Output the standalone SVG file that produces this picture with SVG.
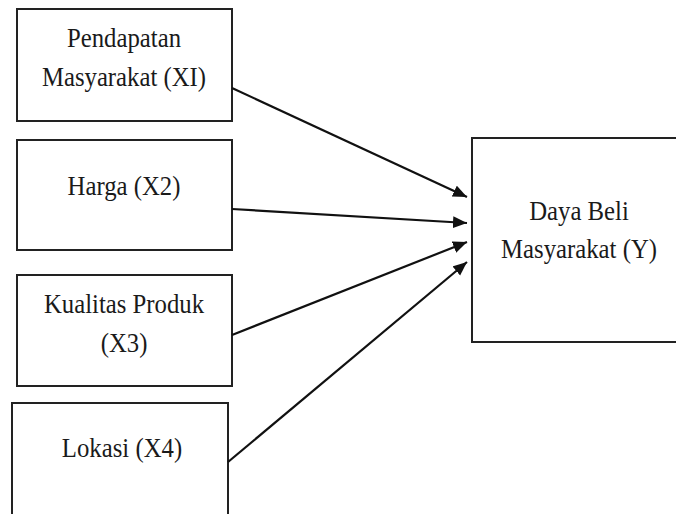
<svg xmlns="http://www.w3.org/2000/svg" width="676" height="514" viewBox="0 0 676 514">
  <style>
    .box { fill: #ffffff; stroke: #222222; stroke-width: 2; }
    .lbl { font-family: "Liberation Serif", "Times New Roman", serif; font-size: 27.5px; fill: #1a1a1a; text-anchor: middle; }
    .edge { stroke: #111111; stroke-width: 2.2; fill: none; marker-end: url(#arrow); }
  </style>
  <defs>
    <marker id="arrow" markerUnits="userSpaceOnUse" markerWidth="15" markerHeight="13" refX="14" refY="6" orient="auto">
      <path d="M0,0 L14,6 L0,12 z" fill="#111111"/>
    </marker>
  </defs>
  <rect width="676" height="514" fill="#ffffff"/>
  <g id="node-x1">
    <rect class="box" x="17" y="9" width="215" height="112"/>
    <text class="lbl" transform="translate(124,47) scale(0.9,1)">Pendapatan</text>
    <text class="lbl" transform="translate(124,86) scale(0.9,1)">Masyarakat (XI)</text>
  </g>
  <g id="node-x2">
    <rect class="box" x="17" y="140" width="215" height="110"/>
    <text class="lbl" transform="translate(124,195) scale(0.9,1)">Harga (X2)</text>
  </g>
  <g id="node-x3">
    <rect class="box" x="17" y="275" width="215" height="111"/>
    <text class="lbl" transform="translate(124,313) scale(0.9,1)">Kualitas Produk</text>
    <text class="lbl" transform="translate(124,352) scale(0.9,1)">(X3)</text>
  </g>
  <g id="node-x4">
    <rect class="box" x="12" y="403" width="216" height="120"/>
    <text class="lbl" transform="translate(122,457) scale(0.9,1)">Lokasi (X4)</text>
  </g>
  <g id="node-y">
    <rect class="box" x="472" y="138" width="214" height="204"/>
    <text class="lbl" transform="translate(579,220) scale(0.9,1)">Daya Beli</text>
    <text class="lbl" transform="translate(579,258) scale(0.9,1)">Masyarakat (Y)</text>
  </g>
  <g id="connectors">
    <line class="edge" x1="232" y1="88" x2="467" y2="197"/>
    <line class="edge" x1="232" y1="209" x2="467" y2="223"/>
    <line class="edge" x1="232" y1="335" x2="467" y2="242"/>
    <line class="edge" x1="228" y1="462" x2="467" y2="262"/>
  </g>
</svg>
